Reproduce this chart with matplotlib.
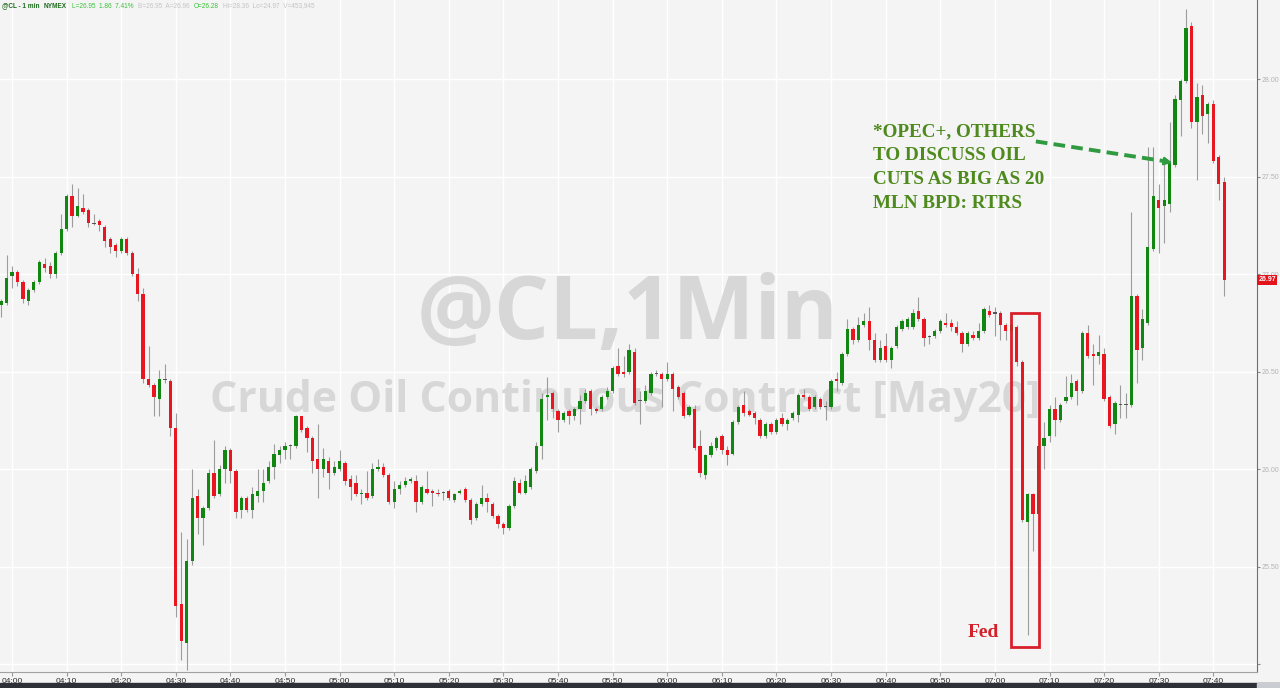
import numpy as np
import pandas as pd
import matplotlib
matplotlib.use('Agg')
import matplotlib.pyplot as plt
import matplotlib.dates as mdates
from matplotlib.patches import Rectangle

plt.rcParams['font.family'] = ['Liberation Sans', 'DejaVu Sans']

# ============================
# DATA: @CL 1-minute bars, 03:58 -> 07:42
# ============================

start_time = '2020-04-02 03:58'

open_ = [
    26.84, 26.85, 26.99, 27.01, 26.96, 26.86, 26.92, 26.96, 27.05, 27.04,
    27.00, 27.11, 27.23, 27.40, 27.30, 27.34, 27.33, 27.26, 27.27, 27.24,
    27.18, 27.15, 27.12, 27.18, 27.11, 27.00, 26.90, 26.46, 26.43, 26.36,
    26.46, 26.45, 26.21, 25.31, 25.11, 25.53, 25.86, 25.75, 25.80, 25.98,
    25.87, 26.00, 26.10, 25.99, 25.79, 25.85, 25.79, 25.86, 25.89, 25.94,
    26.01, 26.07, 26.10, 26.12, 26.12, 26.27, 26.21, 26.16, 26.05, 26.00,
    26.04, 25.98, 26.00, 26.03, 25.95, 25.93, 25.87, 25.88, 25.86, 26.00,
    26.01, 25.97, 25.83, 25.90, 25.92, 25.94, 25.94, 25.83, 25.90, 25.89,
    25.88, 25.88, 25.89, 25.84, 25.88, 25.90, 25.84, 25.75, 25.82, 25.85,
    25.82, 25.76, 25.72, 25.70, 25.81, 25.93, 25.88, 25.91, 25.99, 26.12,
    26.37, 26.39, 26.30, 26.25, 26.30, 26.27, 26.31, 26.35, 26.40, 26.31,
    26.31, 26.37, 26.40, 26.53, 26.50, 26.50, 26.60, 26.35, 26.35, 26.39,
    26.49, 26.49, 26.46, 26.49, 26.42, 26.39, 26.28, 26.31, 26.12, 25.97,
    26.07, 26.11, 26.17, 26.10, 26.08, 26.24, 26.33, 26.30, 26.29, 26.25,
    26.17, 26.23, 26.19, 26.26, 26.23, 26.26, 26.28, 26.38, 26.37, 26.32,
    26.36, 26.32, 26.32, 26.46, 26.44, 26.59, 26.72, 26.66, 26.74, 26.76,
    26.66, 26.56, 26.63, 26.56, 26.63, 26.72, 26.73, 26.73, 26.81, 26.77,
    26.68, 26.68, 26.71, 26.75, 26.75, 26.73, 26.70, 26.64, 26.69, 26.67,
    26.71, 26.81, 26.80, 26.80, 26.74, 26.71, 26.73, 26.55, 25.73, 25.87,
    25.77, 26.12, 26.17, 26.31, 26.25, 26.35, 26.37, 26.45, 26.40, 26.70,
    26.59, 26.58, 26.59, 26.37, 26.23, 26.33, 26.33, 26.33, 26.89, 26.62,
    26.75, 27.13, 27.38, 27.35, 27.36, 27.56, 27.89, 27.99, 28.27, 27.78,
    27.92, 27.82, 27.87, 27.60, 27.47,
]

high = [
    26.87, 27.10, 27.04, 27.02, 26.97, 26.93, 26.97, 27.07, 27.08, 27.06,
    27.12, 27.31, 27.41, 27.46, 27.44, 27.41, 27.34, 27.31, 27.28, 27.25,
    27.19, 27.16, 27.19, 27.19, 27.12, 27.03, 26.93, 26.63, 26.44, 26.51,
    26.54, 26.46, 26.29, 25.68, 25.64, 26.00, 25.90, 25.81, 26.00, 26.15,
    26.02, 26.12, 26.11, 26.00, 25.86, 25.86, 25.91, 26.00, 26.00, 26.04,
    26.13, 26.12, 26.14, 26.13, 26.28, 26.27, 26.22, 26.17, 26.23, 26.11,
    26.06, 26.04, 26.10, 26.04, 25.97, 25.97, 25.90, 25.99, 26.03, 26.05,
    26.03, 25.98, 25.94, 25.94, 25.96, 25.96, 25.97, 25.92, 25.99, 25.90,
    25.90, 25.89, 25.90, 25.88, 25.90, 25.91, 25.85, 25.83, 25.92, 25.88,
    25.83, 25.77, 25.73, 25.82, 25.96, 25.95, 25.97, 26.01, 26.14, 26.39,
    26.47, 26.40, 26.31, 26.30, 26.31, 26.32, 26.38, 26.41, 26.41, 26.32,
    26.38, 26.42, 26.53, 26.62, 26.58, 26.64, 26.62, 26.40, 26.43, 26.50,
    26.51, 26.50, 26.55, 26.50, 26.43, 26.40, 26.33, 26.33, 26.20, 26.08,
    26.14, 26.17, 26.18, 26.12, 26.25, 26.33, 26.40, 26.31, 26.30, 26.26,
    26.24, 26.24, 26.26, 26.29, 26.26, 26.30, 26.39, 26.41, 26.38, 26.38,
    26.37, 26.35, 26.46, 26.50, 26.60, 26.77, 26.73, 26.78, 26.80, 26.83,
    26.70, 26.66, 26.70, 26.63, 26.74, 26.77, 26.78, 26.82, 26.88, 26.78,
    26.69, 26.72, 26.77, 26.80, 26.77, 26.76, 26.71, 26.71, 26.71, 26.75,
    26.83, 26.84, 26.83, 26.81, 26.75, 26.75, 26.74, 26.56, 25.88, 25.88,
    26.23, 26.24, 26.33, 26.37, 26.34, 26.48, 26.49, 26.46, 26.71, 26.74,
    26.64, 26.69, 26.62, 26.38, 26.35, 26.43, 26.39, 27.32, 26.90, 26.82,
    27.65, 27.65, 27.46, 27.60, 27.78, 27.92, 28.00, 28.36, 28.29, 27.98,
    27.97, 27.88, 27.89, 27.61, 27.50,
]

low = [
    26.78, 26.84, 26.93, 26.94, 26.85, 26.84, 26.91, 26.95, 27.01, 26.98,
    26.98, 27.10, 27.22, 27.24, 27.29, 27.31, 27.24, 27.25, 27.22, 27.14,
    27.11, 27.09, 27.11, 27.10, 26.99, 26.86, 26.44, 26.42, 26.27, 26.27,
    26.44, 26.17, 25.24, 25.02, 24.97, 25.51, 25.67, 25.61, 25.79, 25.85,
    25.86, 25.93, 25.93, 25.75, 25.75, 25.78, 25.75, 25.83, 25.83, 25.93,
    25.95, 26.03, 26.05, 26.05, 26.11, 26.19, 26.09, 25.98, 25.85, 25.96,
    25.90, 25.97, 25.99, 25.92, 25.84, 25.86, 25.82, 25.84, 25.85, 25.99,
    25.96, 25.82, 25.80, 25.87, 25.91, 25.93, 25.78, 25.82, 25.87, 25.81,
    25.86, 25.84, 25.84, 25.83, 25.87, 25.83, 25.72, 25.74, 25.81, 25.78,
    25.75, 25.70, 25.67, 25.69, 25.80, 25.87, 25.87, 25.90, 25.98, 26.05,
    26.25, 26.26, 26.19, 26.24, 26.23, 26.25, 26.23, 26.34, 26.28, 26.29,
    26.30, 26.36, 26.39, 26.48, 26.47, 26.49, 26.33, 26.23, 26.34, 26.38,
    26.48, 26.32, 26.45, 26.30, 26.36, 26.26, 26.27, 26.10, 25.96, 25.95,
    26.06, 26.10, 26.08, 26.02, 26.07, 26.23, 26.27, 26.27, 26.23, 26.16,
    26.16, 26.18, 26.18, 26.22, 26.20, 26.25, 26.24, 26.36, 26.30, 26.31,
    26.31, 26.25, 26.31, 26.40, 26.43, 26.58, 26.64, 26.65, 26.73, 26.61,
    26.55, 26.55, 26.55, 26.52, 26.62, 26.71, 26.72, 26.72, 26.76, 26.63,
    26.64, 26.67, 26.70, 26.73, 26.71, 26.69, 26.60, 26.63, 26.66, 26.66,
    26.70, 26.78, 26.68, 26.66, 26.66, 26.70, 26.53, 25.73, 25.15, 25.58,
    25.76, 26.00, 26.14, 26.17, 26.24, 26.34, 26.36, 26.33, 26.39, 26.57,
    26.43, 26.54, 26.35, 26.21, 26.18, 26.26, 26.26, 26.32, 26.44, 26.56,
    26.74, 27.12, 27.11, 27.16, 27.32, 27.55, 27.71, 27.98, 27.75, 27.48,
    27.72, 27.67, 27.57, 27.38, 26.89,
]

close = [
    26.86, 26.98, 27.01, 26.96, 26.87, 26.92, 26.96, 27.06, 27.03, 27.00,
    27.11, 27.23, 27.40, 27.30, 27.35, 27.32, 27.26, 27.26, 27.25, 27.17,
    27.14, 27.12, 27.18, 27.11, 27.00, 26.90, 26.46, 26.43, 26.37, 26.46,
    26.46, 26.21, 25.30, 25.12, 25.53, 25.85, 25.75, 25.80, 25.98, 25.86,
    26.00, 26.10, 25.99, 25.78, 25.85, 25.79, 25.87, 25.89, 25.93, 26.01,
    26.08, 26.10, 26.12, 26.12, 26.27, 26.20, 26.16, 26.04, 26.00, 26.05,
    25.98, 26.01, 26.04, 25.94, 25.91, 25.87, 25.88, 25.85, 26.00, 26.01,
    25.97, 25.83, 25.90, 25.92, 25.94, 25.95, 25.83, 25.91, 25.88, 25.88,
    25.87, 25.88, 25.85, 25.87, 25.89, 25.84, 25.74, 25.82, 25.85, 25.83,
    25.76, 25.72, 25.70, 25.81, 25.94, 25.88, 25.94, 26.00, 26.12, 26.36,
    26.38, 26.31, 26.25, 26.29, 26.27, 26.31, 26.35, 26.39, 26.31, 26.30,
    26.37, 26.40, 26.52, 26.49, 26.49, 26.61, 26.34, 26.35, 26.40, 26.49,
    26.49, 26.46, 26.49, 26.41, 26.37, 26.27, 26.32, 26.11, 25.98, 26.07,
    26.12, 26.16, 26.10, 26.07, 26.24, 26.32, 26.29, 26.28, 26.26, 26.17,
    26.23, 26.19, 26.25, 26.23, 26.25, 26.29, 26.38, 26.37, 26.31, 26.37,
    26.32, 26.32, 26.45, 26.45, 26.59, 26.72, 26.66, 26.74, 26.76, 26.66,
    26.56, 26.62, 26.56, 26.62, 26.73, 26.76, 26.77, 26.80, 26.77, 26.67,
    26.68, 26.71, 26.76, 26.74, 26.73, 26.70, 26.64, 26.70, 26.67, 26.71,
    26.82, 26.79, 26.80, 26.74, 26.71, 26.74, 26.55, 25.74, 25.87, 25.77,
    26.12, 26.16, 26.31, 26.25, 26.33, 26.37, 26.44, 26.40, 26.70, 26.58,
    26.58, 26.60, 26.36, 26.22, 26.34, 26.33, 26.33, 26.89, 26.61, 26.77,
    27.14, 27.40, 27.34, 27.38, 27.57, 27.90, 27.99, 28.26, 27.78, 27.91,
    27.81, 27.87, 27.58, 27.46, 26.97,
]

price_ticks = [25.00, 25.50, 26.00, 26.50, 27.00, 27.50, 28.00]
price_labels = ['', '25.50', '26.00', '26.50', '27.00', '27.50', '28.00']
last_price = '26.97'

header_parts = [
    ('@CL - 1 min', '#1f6b1f', 'bold'),
    ('NYMEX', '#1f6b1f', 'bold'),
    ('L=26.95  1.86  7.41%', '#39c239', 'normal'),
    ('B=26.95  A=26.96', '#c4c4c4', 'normal'),
    ('O=26.28', '#39c239', 'normal'),
    ('Hi=28.36  Lo=24.97  V=453,945', '#c4c4c4', 'normal'),
]

news_text = '*OPEC+, OTHERS\nTO DISCUSS OIL\nCUTS AS BIG AS 20\nMLN BPD: RTRS'

# ============================
# COLOURS
# ============================

BG = '#f4f4f4'
GREEN = '#118711'
RED = '#e8161f'
WICK = '#9c9c9c'

# ============================
# FIGURE
# ============================

times = pd.date_range(start_time, periods=len(close), freq='min')
x = mdates.date2num(times)
t_open = pd.Timestamp('2020-04-02 04:00')


def tnum(minutes):
    # minutes counted from 04:00
    return mdates.date2num(t_open + pd.Timedelta(minutes=minutes))


fig = plt.figure(figsize=(12.8, 6.88), dpi=100)
fig.patch.set_facecolor(BG)
ax = fig.add_axes([0, 16 / 688, 1257 / 1280, 672 / 688])
ax.set_facecolor(BG)

o = np.array(open_)
h = np.array(high)
l = np.array(low)
c = np.array(close)

colors = np.where(c > o, GREEN, np.where(c < o, RED, '#555555'))
body_lo = np.minimum(o, c)
body_h = np.abs(c - o)
min_h = 0.006
body_lo = np.where(body_h < min_h, body_lo - (min_h - body_h) / 2, body_lo)
body_h = np.maximum(body_h, min_h)

ax.vlines(x, l, h, color=WICK, lw=0.8, zorder=2)
ax.bar(x, body_h, bottom=body_lo, width=0.6 / 1440, color=colors,
       linewidth=0, zorder=3)

# ============================
# AXES
# ============================

ax.set_xlim(tnum(-2.2), tnum(228.0))
ax.set_ylim(24.96, 28.405)

ax.xaxis.set_major_locator(mdates.MinuteLocator(byminute=range(0, 60, 10)))
ax.xaxis.set_major_formatter(mdates.DateFormatter('%H:%M'))
ax.yaxis.tick_right()
ax.set_yticks(price_ticks)
ax.set_yticklabels(price_labels)

ax.tick_params(axis='x', labelsize=6, colors='#9a9a9a', labelcolor='#2a2a2a',
               length=3, pad=1.5)
ax.tick_params(axis='y', labelsize=5, colors='#8a8a8a', labelcolor='#b4b4b4',
               length=2, pad=1.5)

ax.grid(True, color='white', lw=1.0)
ax.set_axisbelow(True)

for s in ['top', 'left']:
    ax.spines[s].set_visible(False)
ax.spines['right'].set_color('#707070')
ax.spines['bottom'].set_color('#a0a0a0')

# last price tag
ax.text(1.001, 26.97, last_price, transform=ax.get_yaxis_transform(),
        ha='left', va='center', fontsize=5, color='white', fontweight='bold',
        bbox=dict(boxstyle='square,pad=0.2', fc='#e3121b', ec='none'),
        zorder=10, clip_on=False)

# ============================
# WATERMARK
# ============================

ax.text(628 / 1280, 1 - 316 / 688, '@CL,1Min', transform=fig.transFigure,
        ha='center', va='center', fontsize=62.5, fontweight='bold',
        family='Open Sans', color='#d7d7d7', zorder=1)
ax.text(625 / 1280, 1 - 400 / 688, 'Crude Oil Continuous Contract [May20]',
        transform=fig.transFigure, ha='center', va='center', fontsize=30.8,
        fontweight='bold', family='Open Sans', color='#d7d7d7', zorder=1)

# ============================
# ANNOTATIONS
# ============================

ax.text(tnum(157.7), 27.775, news_text, ha='left', va='top',
        fontsize=13.8, fontweight='bold', family='Liberation Serif',
        color='#4f8a1e', linespacing=1.55, zorder=6)

ax.plot([tnum(187.5), tnum(210.8)], [27.68, 27.58], color='#2f9a3f',
        lw=2.8, linestyle=(0, (3, 1.6)), zorder=6, solid_capstyle='butt')
ax.annotate('', xy=(tnum(213.0), 27.568), xytext=(tnum(210.0), 27.584),
            arrowprops=dict(arrowstyle='-|>', color='#2f9a3f', lw=1.5,
                            mutation_scale=12), zorder=6)

ax.add_patch(Rectangle((tnum(182.9), 25.09), tnum(188.1) - tnum(182.9),
                       26.80 - 25.09, fill=False, ec='#d9202a', lw=2,
                       zorder=7))
ax.text(tnum(177.8), 25.165, 'Fed', ha='center', va='center', fontsize=14,
        fontweight='bold', family='Liberation Serif', color='#d4202a',
        zorder=7)

# ============================
# HEADER
# ============================

prev = fig.text(2 / 1280, 1 - 6 / 688, header_parts[0][0], ha='left',
                va='center', fontsize=4.7, color=header_parts[0][1],
                fontweight=header_parts[0][2])
for txt, col, wt in header_parts[1:]:
    prev = ax.annotate(txt, xy=(1, 0), xycoords=prev, xytext=(3.2, 0),
                       textcoords='offset points', ha='left', va='bottom',
                       fontsize=4.7, color=col, fontweight=wt,
                       annotation_clip=False)

# bottom bar
fig.add_artist(Rectangle((0, 0), 1, 5 / 688, transform=fig.transFigure,
                         color='#2d3137', zorder=0))
fig.add_artist(Rectangle((1257 / 1280, 0), 23 / 1280, 5 / 688,
                         transform=fig.transFigure, color='#c9ccd1', zorder=0))

fig.savefig('out.png', dpi=100, facecolor=BG)
